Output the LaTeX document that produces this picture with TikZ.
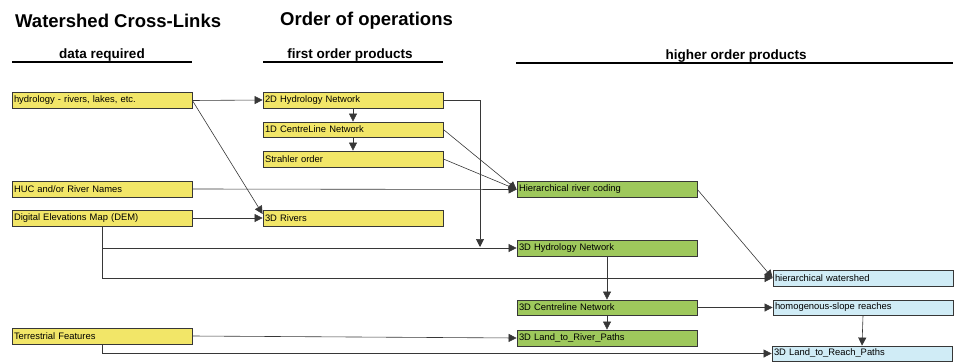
\documentclass[tikz,border=0pt]{standalone}
\usepackage{fontspec}
\setmainfont{Liberation Sans}
\usetikzlibrary{arrows.meta}
\definecolor{byel}{RGB}{242,230,104}
\definecolor{bgrn}{RGB}{158,200,92}
\definecolor{bblu}{RGB}{208,236,246}
\definecolor{lcol}{RGB}{55,55,55}
\tikzset{
  box/.style={draw=lcol, line width=0.8pt, minimum width=180pt, text width=176pt, align=left, inner sep=2pt, minimum height=16pt, font=\fontsize{9.4}{10}\selectfont},
  yb/.style={box, fill=byel},
  gb/.style={box, fill=bgrn},
  bb/.style={box, fill=bblu},
  arr/.style={draw=lcol, line width=0.6pt, -{Triangle[length=8pt,width=8pt]}},
  title/.style={font=\fontsize{18.5}{20}\selectfont\bfseries},
  head/.style={font=\fontsize{13.5}{15}\selectfont\bfseries},
  rule/.style={draw=black, line width=1.2pt}
}
\begin{document}
\begin{tikzpicture}[x=1pt,y=-1pt]
\useasboundingbox (0,0) rectangle (957,361);
\node[title, anchor=west, inner sep=0pt] (t1) at (15,21) {Watershed Cross-Links};
\node[title, anchor=west, inner sep=0pt] (t2) at (280,21) {Order of operations};
\node[head] (h1) at (102,55.5) {data required};
\node[head] (h2) at (350,55.5) {first order products};
\node[head] (h3) at (736,56.5) {higher order products};
\coordinate (u1a) at (12,62); \coordinate (u1b) at (192,62);
\coordinate (u2a) at (263,62); \coordinate (u2b) at (443,62);
\coordinate (u3a) at (516,63); \coordinate (u3b) at (953,63);
\draw[rule] (u1a) -- (u1b);
\draw[rule] (u2a) -- (u2b);
\draw[rule] (u3a) -- (u3b);

\node[yb] (hyd) at (102,100.5) {hydrology - rivers, lakes, etc.};
\node[yb] (h2d) at (353,100) {2D Hydrology Network};
\node[yb, minimum height=15pt] (c1d) at (353,129.5) {1D CentreLine Network};
\node[yb] (str) at (353,159) {Strahler order};
\node[yb] (huc) at (102,189) {HUC and/or River Names};
\node[yb] (dem) at (102,218) {Digital Elevations Map (DEM)};
\node[yb] (r3d) at (353,218) {3D Rivers};
\node[yb] (ter) at (102,336) {Terrestrial Features};

\node[gb] (hrc) at (607,189.5) {Hierarchical river coding};
\node[gb] (h3d) at (607,248) {3D Hydrology Network};
\node[gb, minimum height=15pt] (c3d) at (607,307.5) {3D Centreline Network};
\node[gb] (lrp) at (607,338) {3D Land\_to\_River\_Paths};

\node[bb] (hws) at (863,278) {hierarchical watershed};
\node[bb, minimum height=15pt] (hsr) at (863,307.5) {homogenous-slope reaches};
\node[bb, minimum height=15pt] (lrc) at (862,353.5) {3D Land\_to\_Reach\_Paths};

\coordinate (j1) at (480,247);
\draw[arr] (hyd.east) -- (h2d.west);
\draw[arr] (hyd.east) -- ([yshift=4pt]r3d.west);
\draw[arr] (dem.east) -- (r3d.west);
\draw[arr] (h2d.south) -- (c1d.north);
\draw[arr] (c1d.south) -- (str.north);
\draw[arr] (h2d.east) -| (j1);
\draw[arr] (dem.south) |- (h3d.west);
\draw[arr] (dem.south) |- (hws.west);
\draw[arr] (c1d.east) -- (hrc.west);
\draw[arr] (str.east) -- (hrc.west);
\draw[arr] (huc.east) -- (hrc.west);
\draw[arr] (hrc.east) -- (hws.west);
\draw[arr] (h3d.south) -- (c3d.north);
\draw[arr] (c3d.south) -- (lrp.north);
\draw[arr] (c3d.east) -- (hsr.west);
\draw[arr] (hsr.south) -- (lrc.north);
\draw[arr] (ter.east) -- (lrp.west);
\draw[arr] (ter.south) |- (lrc.west);
\end{tikzpicture}
\end{document}
